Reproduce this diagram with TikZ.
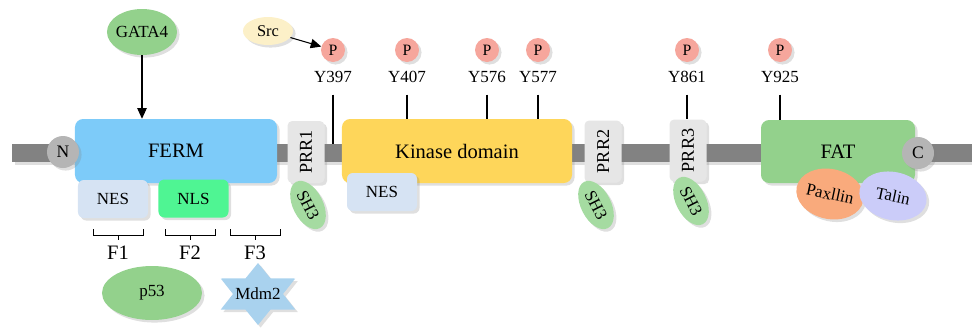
\documentclass[tikz,border=0pt]{standalone}
\usepackage{graphicx}
\usepackage{fontspec}
\setmainfont{Liberation Serif}[Scale=1.0]
\usetikzlibrary{shapes.geometric,shadows,arrows.meta}
\definecolor{bargray}{HTML}{828282}
\definecolor{endgray}{HTML}{B5B5B5}
\definecolor{fermblue}{HTML}{7DCBF9}
\definecolor{kinyellow}{HTML}{FED65A}
\definecolor{fatgreen}{HTML}{93D18C}
\definecolor{prrgray}{HTML}{E6E6E6}
\definecolor{sh3green}{HTML}{A5DBA1}
\definecolor{nesblue}{HTML}{D6E3F3}
\definecolor{nlsgreen}{HTML}{4FF593}
\definecolor{psalmon}{HTML}{F6A69C}
\definecolor{srccream}{HTML}{FCF0C8}
\definecolor{mdmblue}{HTML}{A9D2EE}
\definecolor{paxorange}{HTML}{F9AA7C}
\definecolor{talinlilac}{HTML}{CBCCF9}
\begin{document}
\begin{tikzpicture}[x=0.03cm, y=-0.03cm,
    lift/.style = {drop shadow={opacity=0.25, shadow xshift=2.2pt, shadow yshift=-2.2pt}},
    bigtext/.style = {font=\rmfamily\fontsize{17.5}{21}\selectfont},
    smalltext/.style = {font=\rmfamily\fontsize{14.5}{17}\selectfont},
    region/.style = {rectangle, rounded corners=7pt, lift, inner sep=0pt, bigtext},
    prr/.style = {rectangle, rounded corners=4pt, fill=prrgray, lift, minimum width=1.11cm, minimum height=1.86cm, inner sep=0pt, font=\rmfamily\fontsize{15.5}{18}\selectfont},
    motif/.style = {rectangle, rounded corners=5pt, lift, minimum width=2.1cm, minimum height=1.14cm, inner sep=0pt, smalltext},
    blob/.style = {ellipse, lift, inner sep=-6pt, smalltext},
    sh3/.style = {blob, fill=sh3green, minimum width=1.56cm, minimum height=0.9cm, rotate=-63},
    phos/.style = {circle, fill=psalmon, lift, minimum size=0.72cm, inner sep=0pt, font=\rmfamily\fontsize{13.5}{16}\selectfont},
    term/.style = {circle, fill=endgray, lift, minimum size=0.96cm, inner sep=0pt, font=\rmfamily\fontsize{15}{18}\selectfont},
    site/.style = {smalltext, inner sep=0pt},
    stem/.style = {line width=1.2pt, shorten <=10pt},
    arr/.style = {-{Triangle[length=9pt, width=8pt]}, line width=0.9pt},
  ]
  \useasboundingbox (0,0) rectangle (972,330);
  \node[rectangle, fill=bargray, lift, minimum width=28.8cm, minimum height=0.54cm, inner sep=0pt] (bb) at (492,153) {};

  \node[region, fill=fermblue, minimum width=6.06cm, minimum height=1.92cm] (ferm) at (176,151) {FERM};
  \node[region, fill=kinyellow, minimum width=6.9cm, minimum height=1.92cm] (kin) at (457,151) {Kinase domain};
  \node[region, fill=fatgreen, minimum width=4.62cm, minimum height=1.89cm] (fat) at (838,151.5) {FAT};
  \node[prr] (prr1) at (306,152) {\rotatebox{90}{PRR1}};
  \node[prr] (prr2) at (603,151.5) {\rotatebox{90}{PRR2}};
  \node[prr] (prr3) at (688,150.5) {\rotatebox{90}{PRR3}};
  \node[term] (nterm) at (63,152) {N};
  \node[term] (cterm) at (918,153) {C};

  \node[motif, fill=nesblue] (nes1) at (113,199) {NES};
  \node[motif, fill=nlsgreen] (nls) at (193.5,198.5) {NLS};
  \node[motif, fill=nesblue] (nes2) at (382,192) {NES};
  \node[sh3] (sh1) at (308,205) {SH3};
  \node[sh3] (sh2) at (596,205) {SH3};
  \node[sh3] (sh3) at (691,201) {SH3};
  \node[blob, fill=paxorange, minimum width=2.04cm, minimum height=1.5cm, rotate=-12] (pax) at (830,194) {Paxllin};
  \node[blob, fill=talinlilac, minimum width=2.04cm, minimum height=1.44cm, rotate=-12] (talin) at (893,196) {Talin};

  \foreach \x/\n in {333/397, 407/407, 487/576, 538/577, 687/861, 780/925} {
    \node[phos] (p\n) at (\x,50) {P};
    \node[site] (y\n) at (\x,77) {Y\n};
  }
  \draw[stem] (y397.south) -- (y397.south |- bb.north);
  \foreach \n in {407,576,577}
    \draw[stem] (y\n.south) -- (y\n.south |- kin.north);
  \draw[stem] (y861.south) -- (y861.south |- prr3.north);
  \draw[stem] (y925.south) -- (y925.south |- fat.north);

  \node[blob, fill=fatgreen, minimum width=2.1cm, minimum height=1.38cm] (gata) at (142,32) {GATA4};
  \draw[arr] (gata) -- (gata |- ferm.north);
  \node[blob, fill=srccream, minimum width=1.5cm, minimum height=0.84cm, font=\rmfamily\fontsize{14}{17}\selectfont] (src) at (268,31) {Src};
  \draw[arr] (src) -- (p397);

  \foreach \n/\x in {1/118, 2/190, 3/255} {
    \draw[line width=0.8pt] (\x-25,229) -- (\x-25,235) -- (\x+25,235) -- (\x+25,229) (\x,235) -- (\x,240);
    \node[bigtext] (f\n) at (\x,253) {F\n};
  }
  \node[blob, fill=fatgreen, minimum width=3cm, minimum height=1.62cm] (p53) at (152,293) {p53};
  \fill[mdmblue, lift, shift={(258,294)}] (90:43 and 31) -- (120:25 and 18) -- (150:43 and 31) -- (180:25 and 18)
    -- (210:43 and 31) -- (240:25 and 18) -- (270:43 and 31) -- (300:25 and 18)
    -- (330:43 and 31) -- (0:25 and 18) -- (30:43 and 31) -- (60:25 and 18) -- cycle;
  \node[smalltext] (mdm) at (258,294) {Mdm2};
\end{tikzpicture}
\end{document}
